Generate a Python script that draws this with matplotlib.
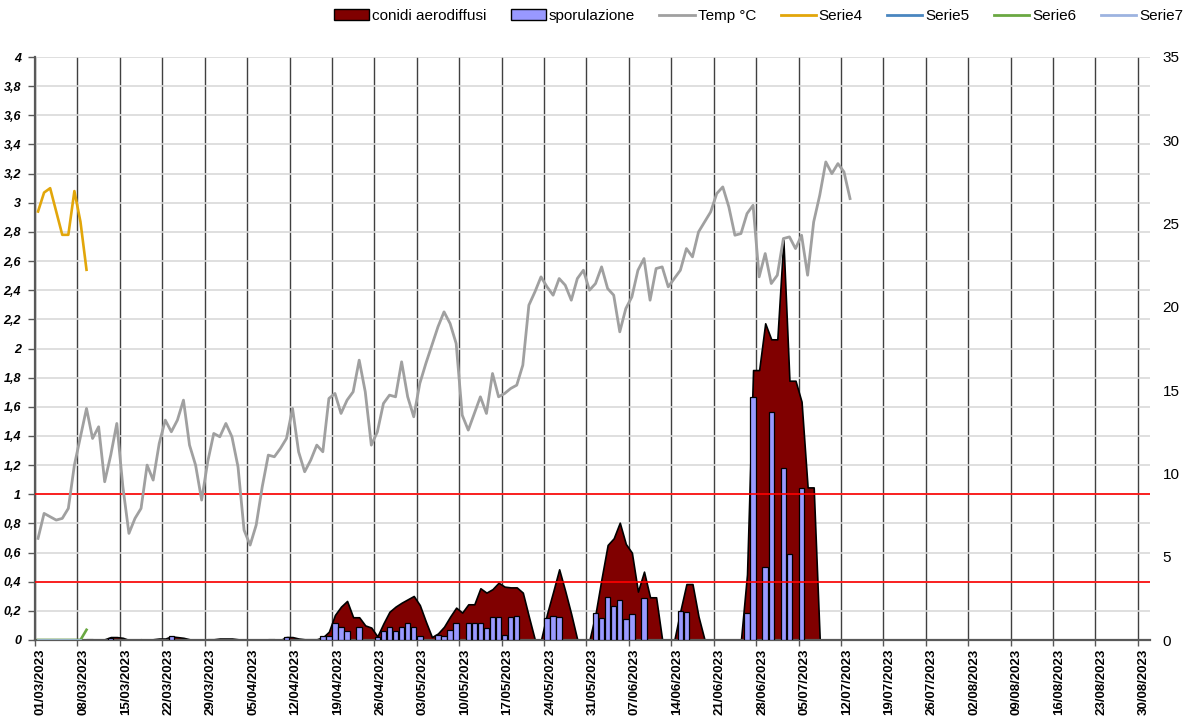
import matplotlib
matplotlib.use("Agg")
import matplotlib.pyplot as plt
from matplotlib.patches import Patch
from matplotlib.lines import Line2D
from matplotlib.ticker import FuncFormatter
import numpy as np
import pandas as pd

plt.rcParams["font.family"] = ["Liberation Sans", "DejaVu Sans"]

# ── Data (daily, season starts 01/03/2023) ────────────────────────────────────
START = "2023-03-01"
N_DAYS = 184                     # 01/03 .. 31/08

# mean air temperature, °C, from 01/03
temp_c = [
    6.1, 7.6, 7.4, 7.2, 7.3, 7.9, 10.5, 12.2, 13.9, 12.1,
    12.8, 9.5, 11.1, 13.0, 9.2, 6.4, 7.3, 7.9, 10.5, 9.6,
    11.8, 13.2, 12.5, 13.2, 14.4, 11.7, 10.5, 8.4, 10.7, 12.4,
    12.2, 13.0, 12.2, 10.4, 6.6, 5.7, 6.9, 9.2, 11.1, 11.0,
    11.5, 12.1, 13.9, 11.3, 10.1, 10.8, 11.7, 11.3, 14.5, 14.8,
    13.6, 14.4, 14.9, 16.8, 14.9, 11.7, 12.5, 14.2, 14.7, 14.6,
    16.7, 14.6, 13.4, 15.4, 16.6, 17.7, 18.8, 19.7, 19.0, 17.8,
    13.5, 12.6, 13.6, 14.6, 13.6, 16.0, 14.6, 14.8, 15.1, 15.3,
    16.5, 20.1, 20.9, 21.8, 21.2, 20.7, 21.7, 21.3, 20.4, 21.7,
    22.2, 21.0, 21.4, 22.4, 21.1, 20.7, 18.5, 19.9, 20.6, 22.2,
    22.9, 20.4, 22.3, 22.4, 21.2, 21.7, 22.2, 23.5, 23.0, 24.5,
    25.1, 25.7, 26.8, 27.2, 26.0, 24.3, 24.4, 25.6, 26.1, 21.8,
    23.2, 21.4, 21.9, 24.1, 24.2, 23.5, 24.3, 21.9, 25.1, 26.7,
    28.7, 28.0, 28.6, 28.1, 26.5,
]

# spore counts start on 08/03 (day 7 from start)
SPORE_OFFSET = 7
conidi = [
    0, 0.005, 0.005, 0, 0.005, 0.02, 0.02, 0.015, 0, 0,
    0.005, 0, 0.005, 0.01, 0.01, 0.025, 0.02, 0.015, 0.005, 0,
    0, 0.005, 0.005, 0.01, 0.01, 0.01, 0.005, 0, 0, 0,
    0, 0.005, 0.005, 0, 0.02, 0.02, 0.01, 0.005, 0.005, 0.005,
    0.018, 0.057, 0.172, 0.229, 0.268, 0.156, 0.156, 0.100, 0.085, 0.025,
    0.114, 0.194, 0.229, 0.256, 0.279, 0.302, 0.240, 0.126, 0.020, 0.045,
    0.091, 0.160, 0.222, 0.188, 0.245, 0.245, 0.355, 0.325, 0.349, 0.393,
    0.366, 0.361, 0.361, 0.325, 0.160, 0, 0, 0.180, 0.330, 0.485,
    0.336, 0.176, 0, 0, 0, 0.180, 0.423, 0.652, 0.698, 0.805,
    0.659, 0.599, 0.332, 0.469, 0.293, 0.293, 0, 0, 0, 0.200,
    0.384, 0.384, 0.160, 0, 0, 0, 0, 0, 0, 0,
    0.450, 1.852, 1.852, 2.173, 2.063, 2.063, 2.744, 1.779, 1.779, 1.635,
    1.047, 1.047, 0,
]
sporulazione = [
    0, 0, 0, 0, 0, 0.016, 0, 0, 0, 0,
    0, 0, 0, 0, 0, 0.027, 0, 0, 0, 0,
    0, 0, 0, 0, 0, 0, 0, 0, 0, 0,
    0, 0, 0, 0, 0.018, 0, 0, 0, 0, 0,
    0.027, 0.027, 0.119, 0.087, 0.064, 0, 0.087, 0, 0, 0.023,
    0.064, 0.087, 0.062, 0.087, 0.119, 0.087, 0.027, 0, 0, 0.037,
    0.030, 0.069, 0.119, 0, 0.119, 0.119, 0.119, 0.080, 0.160, 0.160,
    0.037, 0.160, 0.167, 0, 0, 0, 0, 0.153, 0.167, 0.160,
    0, 0, 0, 0, 0, 0.183, 0.153, 0.297, 0.233, 0.274,
    0.144, 0.178, 0, 0.290, 0, 0, 0, 0, 0, 0.199,
    0.190, 0, 0, 0, 0, 0, 0, 0, 0, 0,
    0.183, 1.669, 0, 0.499, 1.562, 0, 1.182, 0.588, 0, 1.045,
    0, 0, 0,
]

serie4 = [2.94, 3.07, 3.10, 2.94, 2.78, 2.78, 3.08, 2.87, 2.54]
serie5 = [0, 0, 0, 0, 0, 0, 0, 0]
serie6 = [0, 0, 0, 0, 0, 0, 0, 0, 0.07]
serie7 = [0, 0, 0, 0, 0, 0, 0, 0]

THRESHOLDS = [1.0, 0.4]

# ── Colours ───────────────────────────────────────────────────────────────────
C_CONIDI = "#800000"
C_SPOR = "#9999FF"
C_TEMP = "#A0A0A0"
C_S4 = "#E2A60A"
C_S5 = "#4A86C0"
C_S6 = "#6AA842"
C_S7 = "#9DB3E0"

# ── Figure ────────────────────────────────────────────────────────────────────
fig = plt.figure(figsize=(11.92, 7.22), dpi=100)
ax = fig.add_axes([35 / 1192, 82 / 722, 1115 / 1192, 583 / 722])
ax2 = ax.twinx()

# each day is drawn at the middle of its slot
def xs(n, offset=0):
    return np.arange(n) + offset + 0.5

# area + bars on the primary axis
x_sp = xs(len(conidi), SPORE_OFFSET)
ax.fill_between(x_sp, conidi, 0, facecolor=C_CONIDI, edgecolor="black",
                linewidth=1.2, zorder=2)
spor = np.array(sporulazione)
mask = spor > 0
ax.bar(x_sp[mask], spor[mask], width=0.9, color=C_SPOR,
       edgecolor="black", linewidth=0.9, zorder=3)

ax.plot(xs(len(serie4)), serie4, color=C_S4, lw=1.9, zorder=4)
ax.plot(xs(len(serie5)), serie5, color=C_S5, lw=1.9, zorder=4)
ax.plot(xs(len(serie6)), serie6, color=C_S6, lw=1.9, zorder=4)
ax.plot(xs(len(serie7)), serie7, color=C_S7, lw=1.9, zorder=4)

for t in THRESHOLDS:
    ax.axhline(t, color="#FF0000", lw=1.2, zorder=5)

# temperature on the secondary axis
ax2.plot(xs(len(temp_c)), temp_c, color=C_TEMP, lw=2.0)

# ── Axes ──────────────────────────────────────────────────────────────────────
ax.set_xlim(0, N_DAYS)
ax.set_ylim(0, 4)
ax2.set_ylim(0, 35)

tick_days = np.arange(0, N_DAYS - 1, 7)
tick_lbls = pd.date_range(START, periods=len(tick_days), freq="7D").strftime("%d/%m/%Y")
ax.set_xticks(tick_days)
ax.set_xticklabels(tick_lbls, rotation=90, ha="left", fontweight="bold", fontsize=9.5)
ax.tick_params(axis="x", length=4, width=1, color="#595959", pad=2)

ax.set_yticks(np.arange(0, 4.01, 0.2))
ax.yaxis.set_major_formatter(FuncFormatter(lambda v, _: f"{v:g}".replace(".", ",")))
for lbl in ax.get_yticklabels():
    lbl.set_fontweight("bold")
    lbl.set_fontstyle("italic")
    lbl.set_fontsize(9)
ax.tick_params(axis="y", length=5, width=1, color="#595959", pad=5)

ax2.set_yticks(np.arange(0, 36, 5))
ax2.tick_params(axis="y", length=0, labelsize=11, pad=9)

ax.grid(axis="y", color="#D9D9D9", lw=1.2)
ax.grid(axis="x", color="#404040", lw=1.0)
ax.set_axisbelow(True)

for a in (ax, ax2):
    a.spines["top"].set_visible(False)
    a.spines["right"].set_visible(False)
ax2.spines["left"].set_visible(False)
ax2.spines["bottom"].set_visible(False)
ax.spines["left"].set_color("#595959")
ax.spines["left"].set_linewidth(1.6)
ax.spines["bottom"].set_color("#595959")
ax.spines["bottom"].set_linewidth(1.6)

# ── Legend ────────────────────────────────────────────────────────────────────
handles = [
    Patch(facecolor=C_CONIDI, edgecolor="black", lw=1),
    Patch(facecolor=C_SPOR, edgecolor="black", lw=1),
    Line2D([], [], color=C_TEMP, lw=2),
    Line2D([], [], color=C_S4, lw=2),
    Line2D([], [], color=C_S5, lw=2),
    Line2D([], [], color=C_S6, lw=2),
    Line2D([], [], color=C_S7, lw=2),
]
labels = ["conidi aerodiffusi", "sporulazione", "Temp °C",
          "Serie4", "Serie5", "Serie6", "Serie7"]
fig.legend(handles, labels, loc="upper right", bbox_to_anchor=(1183 / 1192, 1 - 9 / 722),
           ncol=7, frameon=False, fontsize=11, handlelength=2.3,
           handletextpad=0.2, columnspacing=1.6, borderaxespad=0, borderpad=0)

fig.savefig("out.png", dpi=100)
